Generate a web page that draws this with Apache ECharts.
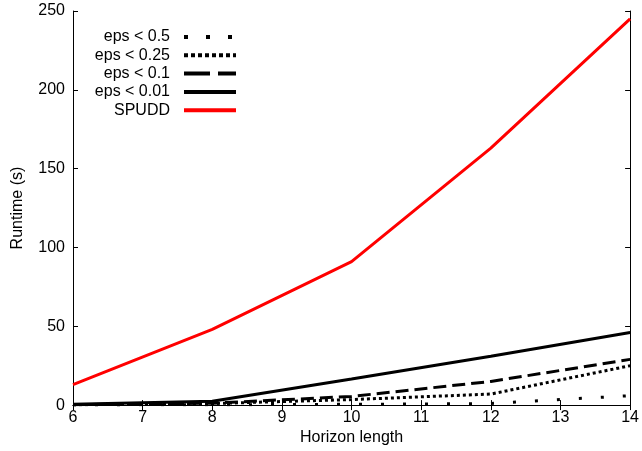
<!DOCTYPE html>
<html>
<head>
<meta charset="utf-8">
<script src="https://cdn.jsdelivr.net/npm/echarts@6/dist/echarts.min.js"></script>
<style>
  html, body { margin: 0; padding: 0; background: #fff; }
  #main { width: 642px; height: 451px; }
</style>
</head>
<body>
<div id="main"></div>
<script>
// horizon lengths
var horizons = [6, 8, 10, 12, 14];
// runtimes (s)
var eps05 = [0.1, 0.2, 0.5, 1, 6];
var eps025 = [0.2, 1, 3.5, 7, 25];
var eps01 = [0.3, 1.2, 5.5, 15, 29];
var eps001 = [0.5, 2.5, 16.5, 31, 46];
var spudd = [13, 48, 91, 163, 245];

var names = ["eps < 0.5", "eps < 0.25", "eps < 0.1", "eps < 0.01", "SPUDD"];
var values = [eps05, eps025, eps01, eps001, spudd];
var styles = [
  { color: "#000", width: 3, type: [3, 19] },
  { color: "#000", width: 3, type: [3, 3] },
  { color: "#000", width: 3, type: [13, 6] },
  { color: "#000", width: 3, type: "solid" },
  { color: "#ff0000", width: 3, type: "solid" },
];
// legend samples are drawn a bit heavier
var legendDash = [[4, 18], [4, 3], [26, 8], "solid", "solid"];

var font = "Liberation Sans, Arial, sans-serif";

var series = names.map(function (n, i) {
  return {
    name: n,
    type: "line",
    symbol: "none",
    lineStyle: styles[i],
    itemStyle: { color: styles[i].color },
    data: horizons.map(function (h, j) {
      return [h, values[i][j]];
    }),
    z: 10 - i,
  };
});

// one legend per row so the text lines up on the right
var legends = names.map(function (n, i) {
  return {
    data: [n],
    right: 399,
    top: 24 + i * 18.3,
    align: "right",
    itemWidth: 52,
    itemHeight: 14,
    itemStyle: { opacity: 0 },
    lineStyle: { width: 4, type: legendDash[i] },
    textStyle: { fontFamily: font, fontSize: 16, color: "#000", padding: [0, 9, 0, 0] },
    selectedMode: false,
  };
});

var axisLine = { show: true, lineStyle: { color: "#000", width: 1 } };
var tickIn = { show: true, inside: true, length: 5, lineStyle: { color: "#000" } };

var option = {
  animation: false,
  backgroundColor: "#fff",
  legend: legends,
  grid: { left: 73, right: 8, top: 11, bottom: 45 },
  xAxis: [
    {
      type: "value",
      min: 6,
      max: 14,
      interval: 1,
      name: "Horizon length",
      nameLocation: "middle",
      nameGap: 19,
      nameTextStyle: { fontFamily: font, fontSize: 16, color: "#000" },
      axisLine: axisLine,
      axisTick: tickIn,
      axisLabel: { fontFamily: font, fontSize: 16, color: "#000", margin: 4 },
      splitLine: { show: false },
    },
    {
      type: "value",
      position: "top",
      min: 6,
      max: 14,
      interval: 1,
      axisLine: axisLine,
      axisTick: tickIn,
      axisLabel: { show: false },
      splitLine: { show: false },
    },
  ],
  yAxis: [
    {
      type: "value",
      min: 0,
      max: 250,
      interval: 50,
      name: "Runtime (s)",
      nameLocation: "middle",
      nameGap: 47,
      nameTextStyle: { fontFamily: font, fontSize: 16, color: "#000" },
      axisLine: axisLine,
      axisTick: tickIn,
      axisLabel: { fontFamily: font, fontSize: 16, color: "#000", margin: 8 },
      splitLine: { show: false },
    },
    {
      type: "value",
      position: "right",
      min: 0,
      max: 250,
      interval: 50,
      axisLine: axisLine,
      axisTick: tickIn,
      axisLabel: { show: false },
      splitLine: { show: false },
    },
  ],
  series: series,
};

var myChart = echarts.init(document.getElementById("main"));
myChart.setOption(option);
</script>
</body>
</html>
